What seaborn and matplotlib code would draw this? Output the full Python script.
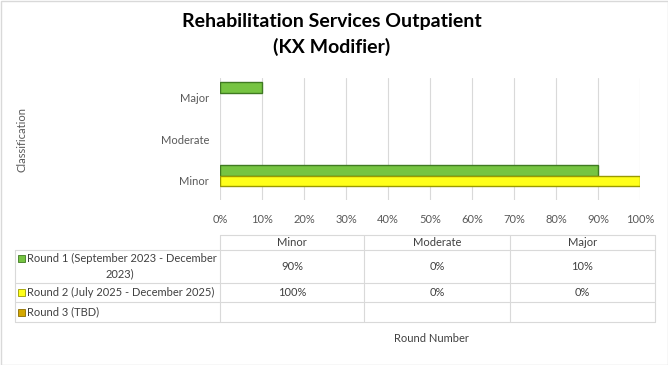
import matplotlib.pyplot as plt
import numpy as np
import pandas as pd
import seaborn as sns
from matplotlib.patches import Rectangle
from matplotlib.lines import Line2D

categories = ['Minor', 'Moderate', 'Major']
rounds = ['Round 1 (September 2023 - December\n2023)',
          'Round 2 (July 2025 - December 2025)',
          'Round 3 (TBD)']
round1 = [90, 0, 10]
round2 = [100, 0, 0]
round3 = [None, None, None]
ticks = [0, 10, 20, 30, 40, 50, 60, 70, 80, 90, 100]

colors = ['#76C442', '#FFFF1A', '#D4A800']
edges = ['#3F7A22', '#9A9A00', '#8A6B00']

rows = []
for name, vals in zip(rounds, [round1, round2, round3]):
    for cat, v in zip(categories, vals):
        rows.append({'Classification': cat, 'Round': name,
                     'Value': np.nan if v is None else v})
df = pd.DataFrame(rows)

sns.set_style('white')
plt.rcParams['font.family'] = ['Lato', 'DejaVu Sans']

W, H = 668, 365
fig = plt.figure(figsize=(W / 100, H / 100), dpi=100)
ax = fig.add_axes([220 / W, 1 - 200 / H, 420 / W, 122 / H])

sns.barplot(data=df, y='Classification', x='Value', hue='Round',
            order=['Major', 'Moderate', 'Minor'], hue_order=rounds,
            palette=colors, saturation=1, orient='h', width=0.75, ax=ax, legend=False)
for bars, ec in zip(ax.containers, edges):
    for b in bars:
        if not np.isfinite(b.get_width()) or b.get_width() == 0:
            b.set_visible(False)
            continue
        b.set_edgecolor(ec)
        b.set_linewidth(1.0)

ax.set_xlim(0, 100)
ax.set_ylim(2.46, -0.48)
ax.set_xticks(ticks)
ax.set_xticklabels([f'{t}%' for t in ticks])
ax.grid(axis='x', color='#D9D9D9', linewidth=0.8)
ax.set_axisbelow(True)
for s in ax.spines.values():
    s.set_visible(False)
ax.tick_params(axis='both', length=0, labelsize=8, labelcolor='#595959', pad=8)
ax.tick_params(axis='x', pad=10)
ax.set_xlabel('')
ax.set_ylabel('')

fig.text(22 / W, 1 - 140 / H, 'Classification', rotation=90, ha='center', va='center',
         fontsize=8, color='#595959')
fig.text(332 / W, 1 - 22 / H, 'Rehabilitation Services Outpatient', ha='center', va='center',
         fontsize=14, fontweight='bold', color='black')
fig.text(332 / W, 1 - 47 / H, '(KX Modifier)', ha='center', va='center',
         fontsize=14, fontweight='bold', color='black')

# data table below the chart
def fy(y):
    return 1 - y / H

def fx(x):
    return x / W

line_kw = dict(color='#D9D9D9', linewidth=0.8, transform=fig.transFigure)
col_x = [15, 220, 364, 510, 655]
row_y = [235, 250, 283, 302, 322]
# header row only spans the value columns
fig.add_artist(Line2D([fx(220), fx(655)], [fy(235), fy(235)], **line_kw))
for y in row_y[1:]:
    fig.add_artist(Line2D([fx(15), fx(655)], [fy(y), fy(y)], **line_kw))
fig.add_artist(Line2D([fx(15), fx(15)], [fy(250), fy(322)], **line_kw))
for x in col_x[1:]:
    fig.add_artist(Line2D([fx(x), fx(x)], [fy(235), fy(322)], **line_kw))

txt_kw = dict(fontsize=8, color='#404040', va='center')
for i, cat in enumerate(categories):
    cx = (col_x[i + 1] + col_x[i + 2]) / 2
    fig.text(fx(cx), fy(242.5), cat, ha='center', **txt_kw)

row_centers = [266.5, 292.5, 312]
for j, (name, vals) in enumerate(zip(rounds, [round1, round2, round3])):
    yc = row_centers[j]
    if j == 0:
        fig.text(fx(27), fy(258), 'Round 1 (September 2023 - December', ha='left', **txt_kw)
        fig.text(fx(120), fy(274), '2023)', ha='center', **txt_kw)
        my = 258
    else:
        fig.text(fx(27), fy(yc), name, ha='left', **txt_kw)
        my = yc
    fig.add_artist(Rectangle((fx(18), fy(my + 3.5)), 7 / W, 7 / H, transform=fig.transFigure,
                             facecolor=colors[j], edgecolor=edges[j], linewidth=0.6))
    for i, v in enumerate(vals):
        if v is None:
            continue
        cx = (col_x[i + 1] + col_x[i + 2]) / 2
        fig.text(fx(cx), fy(yc), f'{v}%', ha='center', **txt_kw)

fig.text(fx(431), fy(338), 'Round Number', ha='center', **txt_kw)

fig.add_artist(Rectangle((0.5 / W, 0.5 / H), 1 - 1 / W, 1 - 1 / H, transform=fig.transFigure,
                         fill=False, edgecolor='#D9D9D9', linewidth=1))

fig.savefig('out.png', dpi=100)
